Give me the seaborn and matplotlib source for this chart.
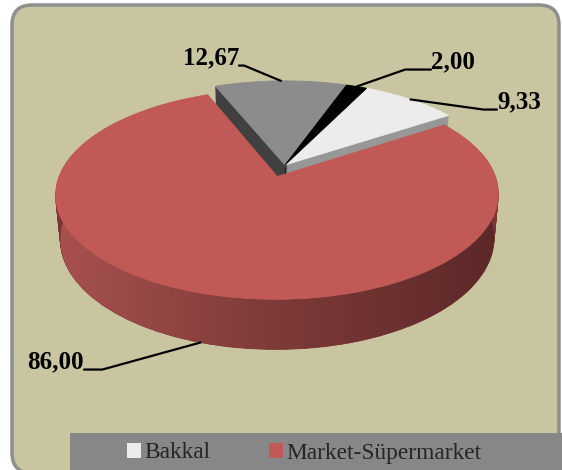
import numpy as np
import seaborn as sns
import matplotlib.pyplot as plt
from matplotlib.patches import FancyBboxPatch, Rectangle, Patch, Polygon
from matplotlib.colors import LinearSegmentedColormap
from matplotlib.transforms import Transform

sns.set_theme(style='white')
plt.rcParams['font.family'] = ['Liberation Serif', 'DejaVu Serif']

# data (slices clockwise from the top, Excel order)
values = [9.33, 86.00, 12.67, 2.00]
legend_names = ['Bakkal', 'Market-Süpermarket']
value_text = [f'{v:.2f}'.replace('.', ',') for v in values]

top_colors = ['#ECECEC', '#C15A57', '#8C8C8C', '#000000']
side_colors = ['#979797', '#7A3634', '#404040', '#000000']
explode = [0, 0.12, 0, 0]

# label layout (figure pixels) and leader line angles
label_pos = [(497, 362), (84, 102), (239, 406), (431, 402)]
label_ha = ['left', 'right', 'right', 'left']
label_relx = [0.0, 1.0, 1.0, 0.0]
label_angle = [-7.9, 15.4, -22.6, 19.3]

# 3D view: tilt, camera distance, thickness, pixels per unit
tilt = np.deg2rad(27.3)
cam = 5.34
thick = 0.234
k = 214
n_layers = 40


def project(x, y, z):
    d = cam + y * np.cos(tilt) - z * np.sin(tilt)
    return np.column_stack([x * cam / d, (y * np.sin(tilt) + z * np.cos(tilt)) * cam / d])


class Perspective(Transform):
    input_dims = 2
    output_dims = 2

    def __init__(self, z):
        super().__init__()
        self.z = z

    def transform_non_affine(self, values):
        values = np.asarray(values, dtype=float)
        return project(values[:, 0], values[:, 1], self.z)


fig = plt.figure(figsize=(5.62, 4.70), dpi=100)
fig.patch.set_facecolor('white')
box = FancyBboxPatch((0.12, -0.03), 5.47, 4.68,
                     boxstyle='round,pad=0,rounding_size=0.2',
                     transform=fig.dpi_scale_trans, facecolor='#C9C5A1',
                     edgecolor='#8F8F8F', linewidth=2.5, zorder=-2)
fig.add_artist(box)
band = Rectangle((70 / 562, 0), 1, 37 / 470, transform=fig.transFigure,
                 facecolor='#878787', edgecolor='none', zorder=-1)
fig.add_artist(band)

ax = fig.add_axes([0, 0, 1, 1])
ax.patch.set_visible(False)


def draw_pie(colors, z, zorder):
    wedges, _ = ax.pie(values, colors=colors, explode=explode, startangle=64,
                       counterclock=False)
    tr = Perspective(z) + ax.transData
    for w in wedges:
        w.set_transform(tr)
        w.set_edgecolor(w.get_facecolor())
        w.set_linewidth(0.6)
        w.set_zorder(zorder)
    return wedges


# side walls: stacked layers, deepest first
for z in np.linspace(-thick, 0, n_layers)[:-1]:
    draw_pie(side_colors, z, 1)

top = draw_pie(top_colors, 0, 3)

# shaded front wall of the big slice
cx, cy = top[1].center
t = np.linspace(np.pi - 0.25, 2 * np.pi + 0.25, 200)
upper = project(cx + np.cos(t), cy + np.sin(t), 0)
lower = project(cx + np.cos(t[::-1]), cy + np.sin(t[::-1]), -thick)
pts = np.vstack([upper, lower])
clip = Polygon(pts, closed=True, facecolor='none', edgecolor='none',
               transform=ax.transData)
ax.add_patch(clip)
cmap = LinearSegmentedColormap.from_list('wall', ['#A8514F', '#7D3A38', '#5C2828'])
im = ax.imshow(np.linspace(0, 1, 256).reshape(1, -1), cmap=cmap, aspect='auto',
               extent=[pts[:, 0].min(), pts[:, 0].max(), pts[:, 1].min(), pts[:, 1].max()],
               zorder=2)
im.set_clip_path(clip)

# value labels with leader lines
for i, w in enumerate(top):
    mid = np.deg2rad((w.theta1 + w.theta2) / 2)
    wx, wy = w.center
    z = -thick if i == 1 else 0
    px, py = project(wx + w.r * np.cos(mid), wy + w.r * np.sin(mid), z)[0]
    ax.annotate(value_text[i], xy=(px, py), xytext=label_pos[i],
                textcoords='figure pixels', ha=label_ha[i], va='baseline',
                fontsize=18, fontweight='bold', color='black', zorder=5,
                arrowprops=dict(arrowstyle='-', color='black', lw=1.6,
                                shrinkA=0, shrinkB=0, patchA=None,
                                relpos=(label_relx[i], 0.15),
                                connectionstyle=f'angle,angleA=0,angleB={label_angle[i]},rad=0'))

ax.set_aspect('auto')
ax.set_xlim(-285 / k, 277 / k)
ax.set_ylim(-305 / k, 165 / k)
ax.axis('off')

handles = [Patch(facecolor=top_colors[i], edgecolor='none') for i in range(2)]
fig.legend(handles, legend_names, loc='center', bbox_to_anchor=(304 / 562, 17 / 470),
           ncol=2, frameon=False, fontsize=16.8, handlelength=0.6, handleheight=0.6,
           handletextpad=0.15, columnspacing=2.5)

fig.savefig('out.png', dpi=100)
